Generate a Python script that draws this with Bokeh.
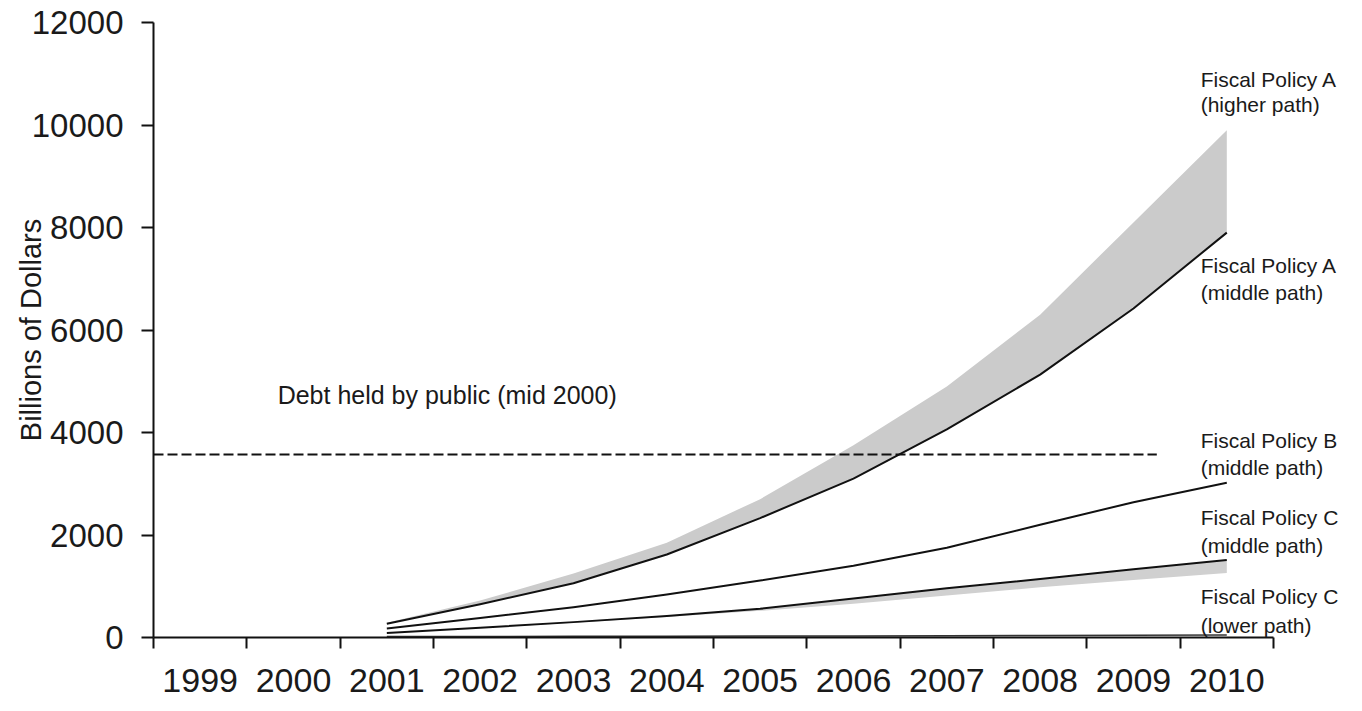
from bokeh.plotting import figure
from bokeh.models import FixedTicker, Range1d, Label
from bokeh.embed import file_html
from bokeh.resources import INLINE

# ---- data ----
axis_years = [1999, 2000, 2001, 2002, 2003, 2004, 2005, 2006, 2007, 2008, 2009, 2010]
axis_year_labels = ["1999", "2000", "2001", "2002", "2003", "2004", "2005", "2006", "2007", "2008", "2009", "2010"]
y_ticks = [0, 2000, 4000, 6000, 8000, 10000, 12000]
y_tick_labels = ["0", "2000", "4000", "6000", "8000", "10000", "12000"]

years = [2001, 2002, 2003, 2004, 2005, 2006, 2007, 2008, 2009, 2010]
policy_a_higher = [290, 720, 1250, 1850, 2700, 3750, 4900, 6300, 8100, 9900]
policy_a_middle = [270, 650, 1060, 1620, 2330, 3100, 4060, 5130, 6420, 7900]
policy_b_middle = [175, 380, 590, 840, 1110, 1400, 1750, 2200, 2640, 3020]
policy_c_middle = [90, 190, 300, 420, 560, 760, 960, 1140, 1330, 1510]
policy_c_band_low = [90, 185, 290, 400, 520, 660, 820, 980, 1120, 1260]
policy_c_lower = [20, 20, 25, 25, 30, 30, 35, 40, 45, 50]

debt_mid_2000 = 3570
debt_line_x = [1998.5, 2009.25]

label_lines = [
    ("Fiscal Policy A", 10890), ("(higher path)", 10400),
    ("Fiscal Policy A", 7260), ("(middle path)", 6740),
    ("Fiscal Policy B", 3850), ("(middle path)", 3310),
    ("Fiscal Policy C", 2340), ("(middle path)", 1790),
    ("Fiscal Policy C", 800), ("(lower path)", 230),
]
debt_label = "Debt held by public (mid 2000)"
y_title = "Billions of Dollars"

TXT = "#1a1a1a"
SANS = "'Liberation Sans', Arial, sans-serif"

# layout: 12 year bands of equal width starting at the y axis
W, H = 1360, 710
LEFT, RIGHT, TOP, BOTTOM = 153, 5, 22, 73
band_px = 93.33
x_end = 1998.5 + (W - LEFT - RIGHT) / band_px

p = figure(width=W, height=H,
           x_range=Range1d(1998.5, x_end), y_range=Range1d(0, 12000),
           output_backend="svg", toolbar_location=None,
           min_border_left=LEFT, min_border_right=RIGHT,
           min_border_top=TOP, min_border_bottom=BOTTOM)
p.outline_line_color = None
p.grid.visible = False
p.background_fill_color = "white"
p.border_fill_color = "white"

# bands
p.varea(x=years, y1=policy_a_middle, y2=policy_a_higher, fill_color="#cbcbcb")
p.varea(x=years, y1=policy_c_band_low, y2=policy_c_middle, fill_color="#d0d0d0")

# lines
for series in (policy_a_middle, policy_b_middle, policy_c_middle):
    p.line(years, series, line_color="#111111", line_width=2, line_join="round")
p.line(years, policy_c_lower, line_color="#333333", line_width=1.5)

p.line(debt_line_x, [debt_mid_2000, debt_mid_2000], line_color="#111111",
       line_width=2, line_dash="10 4")

# x axis: labels centred in year bands, tick marks at band edges
xa = p.xaxis[0]
xa.bounds = (1998.5, 2010.5)
xa.ticker = FixedTicker(ticks=axis_years,
                        minor_ticks=[y - 0.5 for y in axis_years] + [axis_years[-1] + 0.5])
xa.major_label_overrides = {y: s for y, s in zip(axis_years, axis_year_labels)}
xa.major_tick_line_color = None
xa.major_tick_out = 11
xa.major_tick_in = 0
xa.minor_tick_out = 11
xa.minor_tick_in = 0
xa.minor_tick_line_color = "#111111"
xa.minor_tick_line_width = 2
xa.axis_line_width = 2
xa.axis_line_color = "#111111"
xa.major_label_text_font = SANS
xa.major_label_text_font_size = "34px"
xa.major_label_text_color = TXT
xa.major_label_standoff = 20

ya = p.yaxis[0]
ya.ticker = FixedTicker(ticks=y_ticks, minor_ticks=[])
ya.major_label_overrides = {v: s for v, s in zip(y_ticks, y_tick_labels)}
ya.major_tick_out = 12
ya.major_tick_in = 0
ya.major_tick_line_width = 2
ya.major_tick_line_color = "#111111"
ya.minor_tick_line_color = None
ya.axis_line_width = 2
ya.axis_line_color = "#111111"
ya.major_label_text_font = SANS
ya.major_label_text_font_size = "33px"
ya.major_label_text_color = TXT
ya.major_label_standoff = 18
ya.axis_label = y_title
ya.axis_label_text_font = SANS
ya.axis_label_text_font_size = "29px"
ya.axis_label_text_font_style = "normal"
ya.axis_label_text_color = TXT
ya.axis_label_standoff = -18

# annotations
p.add_layout(Label(x=1999.83, y=4740, text=debt_label, text_align="left",
                   text_baseline="alphabetic", text_font=SANS,
                   text_font_size="25px", text_color=TXT))
for txt, yv in label_lines:
    p.add_layout(Label(x=2009.72, y=yv, text=txt, text_align="left",
                       text_baseline="alphabetic", text_font=SANS,
                       text_font_size="21px", text_color=TXT))

open("out.html", "w").write(file_html(p, INLINE))
